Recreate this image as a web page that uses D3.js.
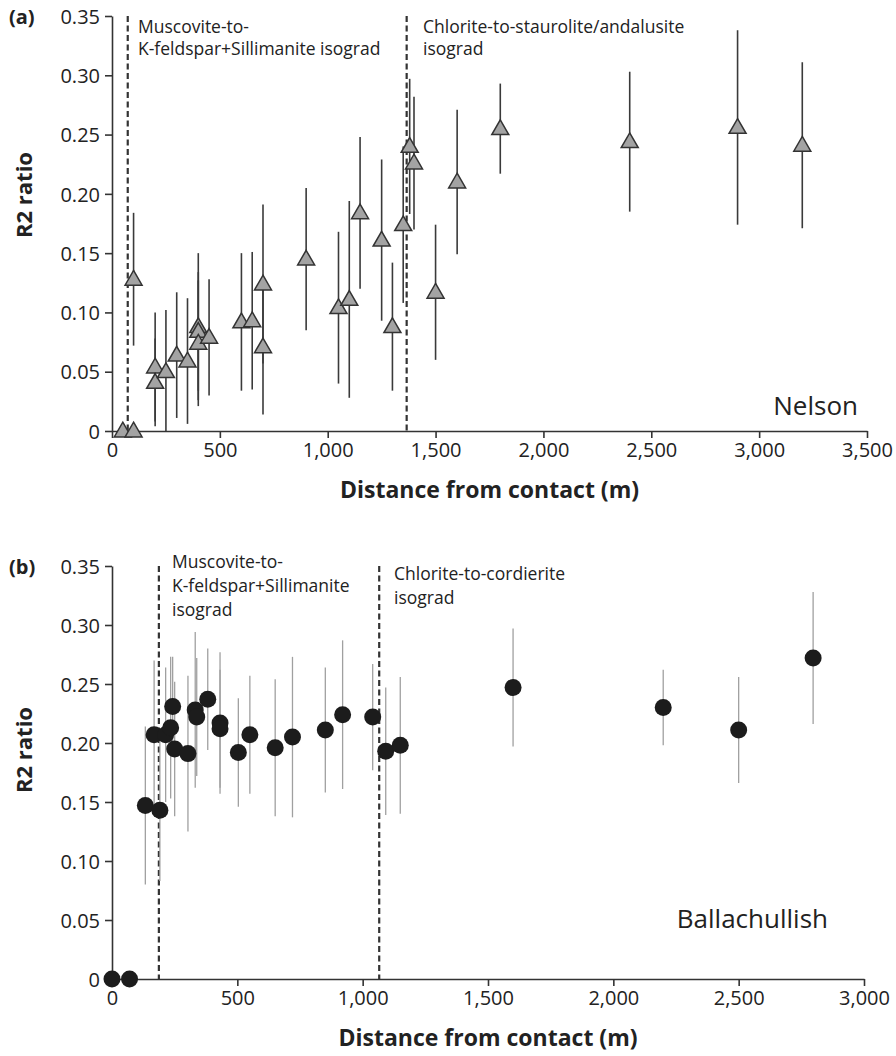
<!DOCTYPE html>
<html>
<head>
    <meta charset="utf-8" />
    <title>R2 ratio vs distance from contact</title>
    <script src="https://d3js.org/d3.v7.min.js"></script>
    <style>
        body { margin: 0; background: #fff; }
        svg text { font-family: "Open Sans", sans-serif; fill: #222; }
        .axis path, .axis line { stroke: #333; stroke-width: 1.6; }
        .axis text { font-size: 20px; fill: #222; }
    </style>
</head>
<body>
    <div id="the-chart"></div>
    <script>
        // ---- data ----
        // (a) Nelson
        var nelsonDist = [50, 100, 100, 200, 200, 250, 300, 350, 400, 400, 400, 450, 600, 650, 700, 700,
            900, 1050, 1100, 1150, 1250, 1300, 1350, 1380, 1400, 1500, 1600, 1800, 2400, 2900, 3200];
        var nelsonR2 = [0, 0, 0.128, 0.054, 0.041, 0.050, 0.064, 0.059, 0.088, 0.084, 0.074, 0.079, 0.092, 0.093, 0.124, 0.071,
            0.145, 0.104, 0.111, 0.184, 0.161, 0.088, 0.174, 0.240, 0.226, 0.117, 0.210, 0.255, 0.244, 0.256, 0.241];
        var nelsonErr = [0, 0, 0.056, 0.046, 0.037, 0.052, 0.053, 0.053, 0.062, 0.050, 0.053, 0.049, 0.058, 0.058, 0.067, 0.057,
            0.060, 0.064, 0.083, 0.064, 0.068, 0.054, 0.066, 0.057, 0.056, 0.057, 0.061, 0.038, 0.059, 0.082, 0.070];
        var nelsonIsograds = [73, 1366];
        var nelsonXTicks = [0, 500, 1000, 1500, 2000, 2500, 3000, 3500];

        // (b) Ballachullish
        var ballaDist = [0, 70, 133, 168, 191, 214, 234, 242, 250, 303, 332, 338, 382, 431, 431, 504, 550, 651, 720,
            851, 920, 1040, 1092, 1150, 1600, 2199, 2500, 2797];
        var ballaR2 = [0, 0, 0.147, 0.207, 0.143, 0.207, 0.213, 0.231, 0.195, 0.191, 0.228, 0.222, 0.237, 0.217, 0.212, 0.192, 0.207, 0.196, 0.205,
            0.211, 0.224, 0.222, 0.193, 0.198, 0.247, 0.230, 0.211, 0.272];
        var ballaErr = [0, 0, 0.067, 0.063, 0.060, 0.057, 0.060, 0.042, 0.057, 0.066, 0.066, 0.050, 0.043, 0.060, 0.050, 0.046, 0.050, 0.058, 0.068,
            0.053, 0.063, 0.045, 0.054, 0.058, 0.050, 0.032, 0.045, 0.056];
        var ballaIsograds = [187, 1066];
        var ballaXTicks = [0, 500, 1000, 1500, 2000, 2500, 3000];

        var yTicks = [0, 0.05, 0.10, 0.15, 0.20, 0.25, 0.30, 0.35];

        var svg = d3.select("#the-chart").append("svg")
            .attr("width", 896)
            .attr("height", 1056);

        function yFormat(d) { return d === 0 ? "0" : d3.format(".2f")(d); }

        function drawPanel(p) {
            var x = d3.scaleLinear().domain([0, p.xMax]).range([p.left, p.right]),
                y = d3.scaleLinear().domain([0, 0.35]).range([p.bottom, p.top]);

            var g = svg.append("g");

            g.append("g")
                .attr("class", "axis axis--x")
                .attr("transform", "translate(0," + p.bottom + ")")
                .call(d3.axisBottom(x).tickValues(p.xTicks).tickFormat(d3.format(",")).tickSize(7).tickSizeOuter(0).tickPadding(5));

            g.append("g")
                .attr("class", "axis axis--y")
                .attr("transform", "translate(" + p.left + ",0)")
                .call(d3.axisLeft(y).tickValues(yTicks).tickFormat(yFormat).tickSize(7).tickSizeOuter(0).tickPadding(5))
                .selectAll("text").attr("dy", "0.36em");

            // isograd lines
            g.selectAll("line.isograd")
                .data(p.isograds)
                .enter().append("line")
                .attr("class", "isograd")
                .attr("x1", function (d) { return x(d); })
                .attr("x2", function (d) { return x(d); })
                .attr("y1", y(0.35))
                .attr("y2", p.bottom)
                .attr("stroke", "#333")
                .attr("stroke-width", 2.2)
                .attr("stroke-dasharray", "6,3.5");

            p.labels.forEach(function (lab) {
                var t = g.append("text")
                    .attr("x", lab.x)
                    .attr("y", lab.y)
                    .style("font-size", "17.5px");
                lab.lines.forEach(function (s, i) {
                    t.append("tspan").attr("x", lab.x).attr("dy", i === 0 ? 0 : lab.lh).text(s);
                });
            });

            var data = p.dist.map(function (d, i) { return { d: d, v: p.r2[i], e: p.err[i] }; });

            // error bars
            g.selectAll("line.err")
                .data(data.filter(function (d) { return d.e > 0; }))
                .enter().append("line")
                .attr("class", "err")
                .attr("x1", function (d) { return x(d.d); })
                .attr("x2", function (d) { return x(d.d); })
                .attr("y1", function (d) { return y(d.v + d.e); })
                .attr("y2", function (d) { return y(Math.max(0, d.v - d.e)); })
                .attr("stroke", p.errColor)
                .attr("stroke-width", p.errWidth);

            if (p.marker === "triangle") {
                var tri = d3.symbol().type(d3.symbolTriangle).size(125);
                g.selectAll("path.pt")
                    .data(data)
                    .enter().append("path")
                    .attr("class", "pt")
                    .attr("d", tri)
                    .attr("transform", function (d) { return "translate(" + x(d.d) + "," + (y(d.v) + 1) + ")"; })
                    .attr("fill", "#a3a3a3")
                    .attr("stroke", "#333")
                    .attr("stroke-width", 1.5);
            } else {
                g.selectAll("circle.pt")
                    .data(data)
                    .enter().append("circle")
                    .attr("class", "pt")
                    .attr("cx", function (d) { return x(d.d); })
                    .attr("cy", function (d) { return y(d.v); })
                    .attr("r", 8.5)
                    .attr("fill", "#1c1c1c");
            }

            // panel letter, axis titles, site name
            g.append("text")
                .attr("x", 9).attr("y", p.top + 8)
                .style("font-size", "20px").style("font-weight", "bold")
                .text(p.letter);

            g.append("text")
                .attr("transform", "translate(32," + p.yTitleY + ") rotate(-90)")
                .attr("text-anchor", "middle")
                .style("font-size", "22px").style("font-weight", "bold")
                .text("R2 ratio");

            g.append("text")
                .attr("x", (p.left + p.right) / 2)
                .attr("y", p.bottom + 67)
                .attr("text-anchor", "middle")
                .style("font-size", "23px").style("font-weight", "bold")
                .text("Distance from contact (m)");

            g.append("text")
                .attr("x", p.siteX)
                .attr("y", p.siteY)
                .attr("text-anchor", "end")
                .style("font-size", "26px")
                .text(p.site);
        }

        drawPanel({
            letter: "(a)", site: "Nelson", siteX: 858, siteY: 415,
            left: 112, right: 867, top: 16, bottom: 431, xMax: 3500, xTicks: nelsonXTicks,
            dist: nelsonDist, r2: nelsonR2, err: nelsonErr, isograds: nelsonIsograds,
            marker: "triangle", errColor: "#3a3a3a", errWidth: 1.6, yTitleY: 195,
            labels: [
                { x: 138, y: 33, lh: 22, lines: ["Muscovite-to-", "K-feldspar+Sillimanite isograd"] },
                { x: 423, y: 33, lh: 22, lines: ["Chlorite-to-staurolite/andalusite", "isograd"] }
            ]
        });

        drawPanel({
            letter: "(b)", site: "Ballachullish", siteX: 828, siteY: 928,
            left: 112, right: 864, top: 566, bottom: 979, xMax: 3000, xTicks: ballaXTicks,
            dist: ballaDist, r2: ballaR2, err: ballaErr, isograds: ballaIsograds,
            marker: "circle", errColor: "#a0a0a0", errWidth: 1.3, yTitleY: 750,
            labels: [
                { x: 172, y: 568, lh: 24, lines: ["Muscovite-to-", "K-feldspar+Sillimanite", "isograd"] },
                { x: 394, y: 580, lh: 24, lines: ["Chlorite-to-cordierite", "isograd"] }
            ]
        });
    </script>
</body>
</html>
